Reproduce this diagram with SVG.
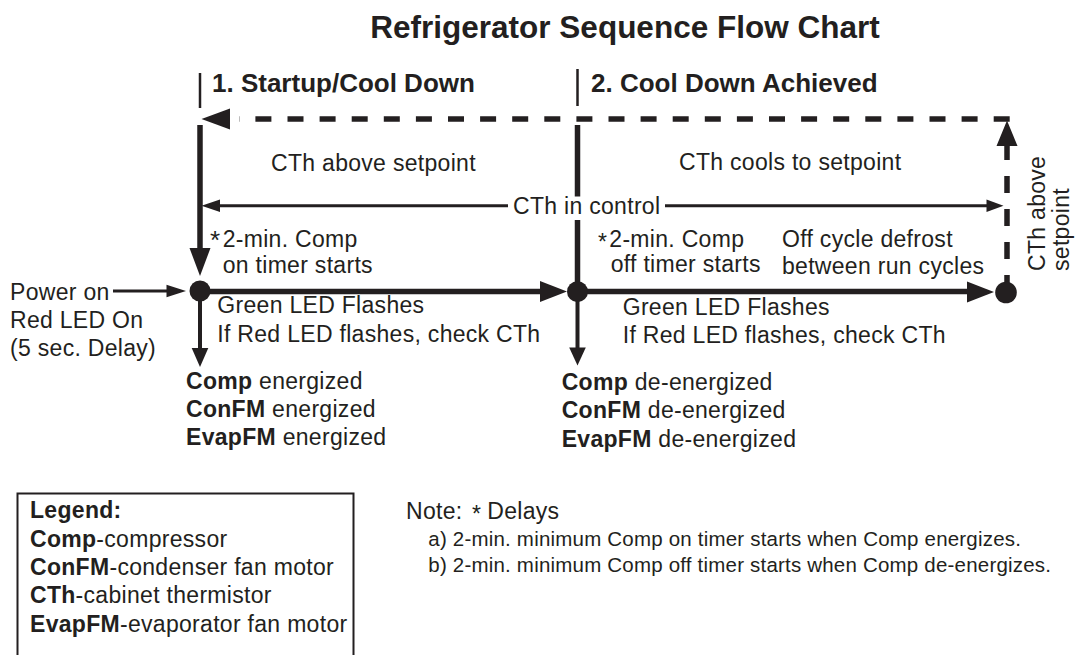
<svg xmlns="http://www.w3.org/2000/svg" width="1077" height="655" viewBox="0 0 1077 655">
<style>
text{font-family:"Liberation Sans",Arial,Helvetica,sans-serif;fill:#231f20;font-size:23px;letter-spacing:0.3px}
.b{font-weight:bold}
.title{font-size:31.5px;font-weight:bold;letter-spacing:0}
.hdr{font-size:26px;font-weight:bold;letter-spacing:0}
.note{font-size:20.5px;letter-spacing:0.2px}
.thick{stroke:#231f20;stroke-width:5.5;fill:none}
.thin{stroke:#231f20;stroke-width:3;fill:none}
.tick{stroke:#231f20;stroke-width:2.5;fill:none}
.dash{stroke:#231f20;stroke-width:5.5;fill:none;stroke-dasharray:16 16.1}
.ah{fill:#231f20}
</style>
<rect width="1077" height="655" fill="#fff"/>
<text id="title" class="title" x="625" y="38" text-anchor="middle">Refrigerator Sequence Flow Chart</text>
<g id="phase1">
<line class="tick" x1="200" y1="73" x2="200" y2="108"/>
<text class="hdr" x="212" y="92">1. Startup/Cool Down</text>
</g>
<g id="phase2">
<line class="tick" x1="577.5" y1="69" x2="577.5" y2="106"/>
<text class="hdr" x="591" y="92">2. Cool Down Achieved</text>
</g>
<g id="connectors">
<path class="dash" d="M1009.7,119 H239"/>
<polygon class="ah" points="201.5,119 230,108.5 230,129.5"/>
<polygon class="ah" points="1007,120.5 996.5,146 1017.5,146"/>
<path class="dash" d="M1007,143 V283" style="stroke-dasharray:17 16"/>
<line class="thick" x1="200" y1="125" x2="200" y2="250"/>
<polygon class="ah" points="200,276 189.5,248 210.5,248"/>
<line class="thick" x1="577.5" y1="125" x2="577.5" y2="196.5"/>
<line class="thick" x1="577.5" y1="220" x2="577.5" y2="291.5"/>
<line class="thick" x1="200" y1="291.5" x2="542" y2="291.5"/>
<polygon class="ah" points="567,291.5 540,281 540,302"/>
<line class="thick" x1="577.5" y1="291.5" x2="969" y2="291.5"/>
<polygon class="ah" points="994,292 967,281.5 967,302.5"/>
<line class="thin" x1="218" y1="205.7" x2="508" y2="205.7"/>
<line class="thin" x1="665" y1="205.7" x2="988" y2="205.7"/>
<polygon class="ah" points="201.5,205.7 220,199.5 220,211.9"/>
<polygon class="ah" points="1003.5,205.7 986.5,199.5 986.5,211.9"/>
<line class="thin" x1="113" y1="291" x2="168" y2="291"/>
<polygon class="ah" points="186,291 166.5,284.8 166.5,297.2"/>
<line x1="200" y1="291" x2="200" y2="350" stroke="#231f20" stroke-width="4"/>
<polygon class="ah" points="200,367 191.7,348 208.3,348"/>
<line x1="577.5" y1="291" x2="577.5" y2="350" stroke="#231f20" stroke-width="4"/>
<polygon class="ah" points="577.5,365.5 569.2,347.5 585.8,347.5"/>
</g>
<g id="dot1"><circle class="ah" cx="200" cy="291" r="10.5"/></g>
<g id="dot2"><circle class="ah" cx="577.5" cy="291.7" r="10.5"/></g>
<g id="dot3"><circle class="ah" cx="1006" cy="292.5" r="10.8"/></g>
<g id="labels">
<text x="271" y="171">CTh above setpoint</text>
<text x="679" y="170">CTh cools to setpoint</text>
<text x="513" y="214">CTh in control</text>
<text x="210" y="247"><tspan font-size="26" dy="2">*</tspan><tspan x="222.7" dy="-2">2-min. Comp</tspan></text>
<text x="222.7" y="273">on timer starts</text>
<text x="598" y="247"><tspan dy="3">*</tspan><tspan x="609.3" dy="-3">2-min. Comp</tspan></text>
<text x="610.7" y="272">off timer starts</text>
<text x="782" y="246.5">Off cycle defrost</text>
<text x="782" y="274">between run cycles</text>
<text x="217.3" y="312.5">Green LED Flashes</text>
<text x="217.3" y="341.5">If Red LED flashes, check CTh</text>
<text x="622.7" y="314.5">Green LED Flashes</text>
<text x="622.7" y="343">If Red LED flashes, check CTh</text>
<text transform="translate(1045,271) rotate(-90)">CTh above</text>
<text transform="translate(1069,271) rotate(-90)">setpoint</text>
</g>
<g id="power">
<text x="10" y="300">Power on</text>
<text x="10" y="328">Red LED On</text>
<text x="10" y="355.5">(5 sec. Delay)</text>
</g>
<g id="state1">
<text x="186" y="388.5"><tspan class="b">Comp</tspan> energized</text>
<text x="186" y="416.8"><tspan class="b">ConFM</tspan> energized</text>
<text x="186" y="445"><tspan class="b">EvapFM</tspan> energized</text>
</g>
<g id="state2">
<text x="561.7" y="390"><tspan class="b">Comp</tspan> de-energized</text>
<text x="561.7" y="418.3"><tspan class="b">ConFM</tspan> de-energized</text>
<text x="561.7" y="446.7"><tspan class="b">EvapFM</tspan> de-energized</text>
</g>
<g id="legend">
<path d="M17.5,660 V493.5 H353.5 V660" fill="none" stroke="#231f20" stroke-width="2"/>
<text class="b" x="30" y="518.3">Legend:</text>
<text x="30" y="546.7"><tspan class="b">Comp</tspan>-compressor</text>
<text x="30" y="575"><tspan class="b">ConFM</tspan>-condenser fan motor</text>
<text x="30" y="603.3"><tspan class="b">CTh</tspan>-cabinet thermistor</text>
<text x="30" y="631.7"><tspan class="b">EvapFM</tspan>-evaporator fan motor</text>
</g>
<g id="note">
<text x="406" y="519">Note:<tspan x="472" dy="3">*</tspan><tspan x="487.3" dy="-3">Delays</tspan></text>
<text class="note" x="428.3" y="546">a) 2-min. minimum Comp on timer starts when Comp energizes.</text>
<text class="note" x="428.3" y="571.5">b) 2-min. minimum Comp off timer starts when Comp de-energizes.</text>
</g>
</svg>
